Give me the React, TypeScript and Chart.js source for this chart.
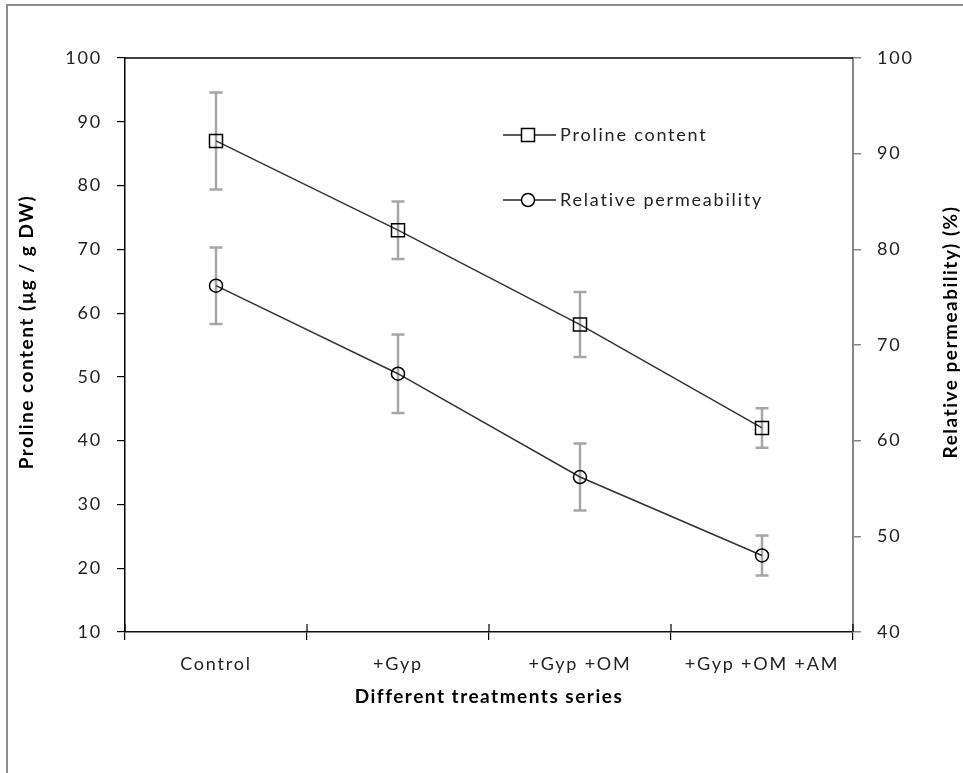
import React, { useEffect, useRef } from "react";
import { Chart, registerables } from "chart.js";

Chart.register(...registerables);

const categories = ["Control", "+Gyp", "+Gyp +OM", "+Gyp +OM +AM"];
const prolineValues = [87.0, 73.0, 58.2, 42.0];
const prolineErrors = [7.6, 4.5, 5.1, 3.1];
const permeabilityValues = [76.2, 67.0, 56.2, 48.0];
const permeabilityErrors = [4.0, 4.1, 3.5, 2.1];
const leftAxis = { min: 10, max: 100, step: 10 };
const rightAxis = { min: 40, max: 100, step: 10 };
const seriesNames = ["Proline content", "Relative permeability"];
const leftTitle = "Proline content (µg / g DW)";
const rightTitle = "Relative permeability) (%)";
const xTitle = "Different treatments series";

const FONT = "Lato, 'Open Sans', sans-serif";
const TEXT = "#222";

const spacingPlugin = {
  id: "spacing",
  beforeDraw(chart: any) {
    chart.ctx.letterSpacing = "1.8px";
  },
};

const errorBarPlugin = {
  id: "errorBars",
  beforeDatasetsDraw(chart: any) {
    const ctx = chart.ctx;
    chart.data.datasets.forEach((ds: any, i: number) => {
      const meta = chart.getDatasetMeta(i);
      const yScale = chart.scales[ds.yAxisID];
      meta.data.forEach((pt: any, j: number) => {
        const v = ds.data[j];
        const e = ds.errors[j];
        const yt = yScale.getPixelForValue(v + e);
        const yb = yScale.getPixelForValue(v - e);
        const x = pt.x;
        ctx.save();
        ctx.strokeStyle = "#a6a6a6";
        ctx.lineWidth = 2.5;
        ctx.beginPath();
        ctx.moveTo(x, yt);
        ctx.lineTo(x, yb);
        ctx.moveTo(x - 6.5, yt);
        ctx.lineTo(x + 6.5, yt);
        ctx.moveTo(x - 6.5, yb);
        ctx.lineTo(x + 6.5, yb);
        ctx.stroke();
        ctx.restore();
      });
    });
  },
};

const decorPlugin = {
  id: "decor",
  afterDraw(chart: any) {
    const ctx = chart.ctx;
    const a = chart.chartArea;
    ctx.save();
    // outer frame (top & left)
    ctx.strokeStyle = "#8c8c8c";
    ctx.lineWidth = 2;
    ctx.beginPath();
    ctx.moveTo(7, 773);
    ctx.lineTo(7, 5);
    ctx.lineTo(963, 5);
    ctx.stroke();
    // plot top border
    ctx.strokeStyle = "#000";
    ctx.lineWidth = 1.5;
    ctx.beginPath();
    ctx.moveTo(a.left, a.top);
    ctx.lineTo(a.right, a.top);
    ctx.stroke();
    // inner halves of x ticks
    const xs = chart.scales.x;
    ctx.strokeStyle = "#000";
    ctx.lineWidth = 1.2;
    ctx.beginPath();
    for (let i = 0; i <= categories.length; i++) {
      const x = xs.getPixelForValue(i - 0.5);
      ctx.moveTo(x, a.bottom);
      ctx.lineTo(x, a.bottom - 8);
    }
    ctx.stroke();
    // axis titles
    ctx.letterSpacing = "1.5px";
    ctx.fillStyle = "#000";
    ctx.font = `bold 19px ${FONT}`;
    ctx.textAlign = "center";
    ctx.textBaseline = "middle";
    ctx.fillText(xTitle, (a.left + a.right) / 2, 697);
    ctx.save();
    ctx.translate(27, 332);
    ctx.rotate(-Math.PI / 2);
    ctx.fillText(leftTitle, 0, 0);
    ctx.restore();
    ctx.save();
    ctx.translate(951, 332);
    ctx.rotate(-Math.PI / 2);
    ctx.fillText(rightTitle, 0, 0);
    ctx.restore();
    // legend
    ctx.letterSpacing = "1.8px";
    const items = [
      { y: 135, style: "rect" },
      { y: 200, style: "circle" },
    ];
    items.forEach((it, i) => {
      ctx.strokeStyle = "#222";
      ctx.lineWidth = 1.5;
      ctx.beginPath();
      ctx.moveTo(503, it.y);
      ctx.lineTo(556, it.y);
      ctx.stroke();
      ctx.fillStyle = "#fff";
      ctx.strokeStyle = "#000";
      ctx.beginPath();
      if (it.style === "rect") {
        ctx.rect(528 - 6.5, it.y - 6.5, 13, 13);
      } else {
        ctx.arc(528, it.y, 6.5, 0, Math.PI * 2);
      }
      ctx.fill();
      ctx.stroke();
      ctx.fillStyle = TEXT;
      ctx.font = `18px ${FONT}`;
      ctx.textAlign = "left";
      ctx.textBaseline = "middle";
      ctx.fillText(seriesNames[i], 560, it.y);
    });
    ctx.restore();
  },
};

export default function App() {
  const ref = useRef<HTMLCanvasElement | null>(null);
  useEffect(() => {
    if (!ref.current) return;
    const chart = new Chart(ref.current, {
      type: "line",
      data: {
        labels: categories,
        datasets: [
          {
            label: seriesNames[0],
            data: prolineValues,
            errors: prolineErrors,
            yAxisID: "y",
            borderColor: "#333",
            borderWidth: 1.5,
            pointStyle: "rect",
            pointRadius: 9.2,
            pointBorderColor: "#000",
            pointBorderWidth: 1.5,
            pointBackgroundColor: "rgba(0,0,0,0)",
            fill: false,
            tension: 0,
          } as any,
          {
            label: seriesNames[1],
            data: permeabilityValues,
            errors: permeabilityErrors,
            yAxisID: "y1",
            borderColor: "#333",
            borderWidth: 1.5,
            pointStyle: "circle",
            pointRadius: 6.5,
            pointBorderColor: "#000",
            pointBorderWidth: 1.5,
            pointBackgroundColor: "rgba(0,0,0,0)",
            fill: false,
            tension: 0,
          } as any,
        ],
      },
      options: {
        animation: false,
        responsive: false,
        layout: { padding: { top: 58, left: 0, right: 0, bottom: 0 } },
        plugins: { legend: { display: false }, tooltip: { enabled: false } },
        scales: {
          x: {
            type: "category",
            offset: true,
            grid: { offset: true, drawOnChartArea: false, tickLength: 8, color: "#000", lineWidth: 1.2 },
            border: { color: "#111", width: 1.5 },
            ticks: { color: TEXT, font: { family: FONT, size: 18 }, padding: 13, maxRotation: 0, autoSkip: false },
            afterFit: (s: any) => { s.height = 141; },
          },
          y: {
            position: "left",
            min: leftAxis.min,
            max: leftAxis.max,
            ticks: { stepSize: leftAxis.step, color: TEXT, font: { family: FONT, size: 18 }, padding: 15 },
            grid: { drawOnChartArea: false, tickLength: 8, color: "#000", lineWidth: 1.2 },
            border: { color: "#000", width: 1.5 },
            afterFit: (s: any) => { s.width = 125; },
          },
          y1: {
            position: "right",
            min: rightAxis.min,
            max: rightAxis.max,
            ticks: { stepSize: rightAxis.step, color: TEXT, font: { family: FONT, size: 18 }, padding: 16 },
            grid: { drawOnChartArea: false, tickLength: 8, color: "#888", lineWidth: 1.5 },
            border: { color: "#888", width: 2 },
            afterFit: (s: any) => { s.width = 110; },
          },
        },
      } as any,
      plugins: [spacingPlugin, errorBarPlugin, decorPlugin],
    });
    return () => chart.destroy();
  }, []);
  return (
    <div style={{ position: "absolute", left: 0, top: 0, width: 963, height: 773, background: "#fff" }}>
      <canvas ref={ref} width={963} height={773} style={{ width: 963, height: 773, display: "block" }} />
    </div>
  );
}
